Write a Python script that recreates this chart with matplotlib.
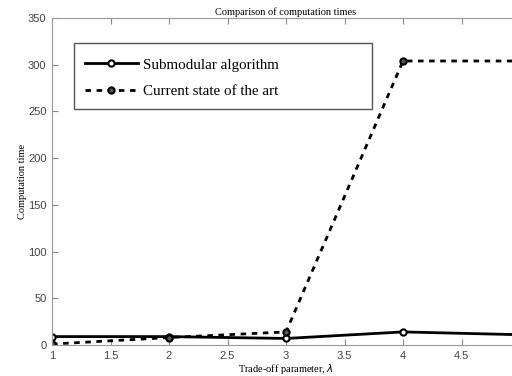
import matplotlib
matplotlib.use('Agg')
import matplotlib.pyplot as plt
from matplotlib.patches import Rectangle

lam = [1, 2, 3, 4, 5]
submodular = [9, 9, 7, 14, 11]
state_of_art = [1, 8, 14, 304, 304]
xticks = [1, 1.5, 2, 2.5, 3, 3.5, 4, 4.5, 5]
yticks = [0, 50, 100, 150, 200, 250, 300, 350]

W, H = 512, 376
fig = plt.figure(figsize=(W / 100, H / 100), dpi=100)
# axes runs past the right edge, as in the cropped original
ax = fig.add_axes([52/W, 31/H, 468/W, 327/H])

ax.plot(lam, submodular, '-', color='black', lw=2, marker='o', ms=4.5,
        mfc='white', mec='black', mew=1.5, label='Submodular algorithm')
ax.plot(lam, state_of_art, '--', color='black', lw=2, marker='o', ms=4.5,
        mfc='#555555', mec='black', mew=1.5, dashes=(2, 2),
        label='Current state of the art')

ax.set_xlim(1, 5)
ax.set_ylim(0, 350)
ax.set_xticks(xticks)
ax.set_yticks(yticks)
ax.set_xticklabels(['1', '1.5', '2', '2.5', '3', '3.5', '4', '4.5', ''])
ax.tick_params(direction='in', length=4, color='#888888', labelcolor='#444444',
               labelsize=8, top=True, right=False, pad=4)
for lbl in ax.get_xticklabels() + ax.get_yticklabels():
    lbl.set_family('Liberation Sans')
for s in ax.spines.values():
    s.set_color('#999999')

ax.set_title('Comparison of computation times', family='Liberation Serif',
             fontsize=7.5, pad=2)
ax.set_xlabel('Trade-off parameter, $\\lambda$', family='Liberation Serif',
              fontsize=7.5, labelpad=1)
ax.set_ylabel('Computation time', family='Liberation Serif', fontsize=7.5,
              labelpad=1)

# legend box drawn separately (wide MATLAB-style frame)
ax.add_patch(Rectangle((74/W, (H - 109)/H), (372 - 74)/W, 66/H,
                       transform=fig.transFigure, fill=True, fc='white',
                       ec='#555555', lw=1.0, zorder=4))
leg = ax.legend(loc='center left',
                bbox_to_anchor=((85 - 52)/468, (345 - 78)/327),
                prop={'family': 'Liberation Serif', 'size': 10.8},
                frameon=False, borderpad=0, labelspacing=0.85,
                handlelength=3.5, handletextpad=0.35, borderaxespad=0)
leg.set_zorder(5)

fig.savefig('out.png', dpi=100)
